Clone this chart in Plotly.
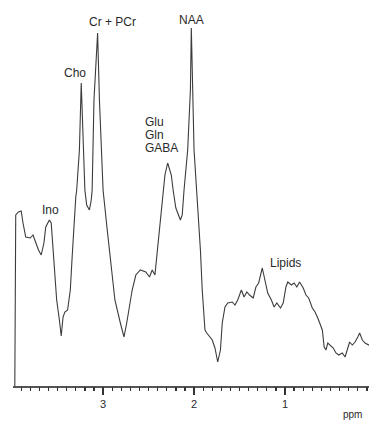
import plotly.graph_objects as go

# Chemical shift (ppm) and signal intensity (arbitrary units)
ppm = [3.97, 3.96, 3.93, 3.90, 3.88, 3.85, 3.80, 3.77, 3.75, 3.71, 3.68, 3.65, 3.63,
       3.59, 3.57, 3.55, 3.53, 3.51, 3.48, 3.46, 3.44, 3.42, 3.39, 3.36, 3.34, 3.32,
       3.30, 3.29, 3.26, 3.24, 3.22, 3.20, 3.18, 3.15, 3.13, 3.12, 3.10, 3.06, 3.04,
       3.00, 2.96, 2.92, 2.87, 2.81, 2.77, 2.74, 2.68, 2.64, 2.59, 2.56, 2.53, 2.49,
       2.46, 2.43, 2.41, 2.37, 2.34, 2.32, 2.29, 2.25, 2.23, 2.20, 2.15, 2.13, 2.11,
       2.07, 2.04, 2.03, 2.00, 1.97, 1.93, 1.91, 1.88, 1.86, 1.80, 1.77, 1.74, 1.71,
       1.69, 1.66, 1.63, 1.58, 1.55, 1.52, 1.48, 1.45, 1.42, 1.39, 1.35, 1.32, 1.29,
       1.25, 1.22, 1.19, 1.15, 1.12, 1.09, 1.05, 1.02, 0.99, 0.97, 0.93, 0.90, 0.87,
       0.84, 0.80, 0.77, 0.74, 0.70, 0.67, 0.64, 0.62, 0.59, 0.57, 0.55, 0.53, 0.51,
       0.47, 0.44, 0.41, 0.37, 0.34, 0.31, 0.29, 0.26, 0.23, 0.20, 0.18, 0.15, 0.12,
       0.08, 0.06]
intensity = [0, 171, 174, 175, 163, 149, 148, 151, 146, 136, 131, 143, 159,
             166, 163, 139, 113, 86, 66, 50, 69, 74, 76, 96, 129, 163,
             189, 196, 236, 303, 236, 196, 181, 176, 186, 196, 286, 353, 286,
             196, 161, 129, 86, 63, 49, 63, 96, 111, 116, 115, 114, 109,
             116, 111, 129, 163, 196, 211, 223, 211, 196, 178, 166, 171, 196,
             236, 296, 358, 236, 196, 136, 96, 56, 53, 46, 38, 24, 36,
             63, 79, 83, 84, 81, 86, 96, 89, 94, 91, 88, 99, 103,
             118, 106, 93, 86, 79, 83, 78, 83, 99, 104, 101, 103, 99,
             104, 98, 91, 88, 78, 74, 68, 63, 56, 39, 36, 43, 41,
             38, 33, 31, 33, 29, 38, 44, 41, 44, 49, 53, 46, 43,
             41, 42]

# Peak labels: text, ppm, intensity, anchor
label_text = ["Ino", "Cho", "Cr + PCr", "Glu", "Gln", "GABA", "NAA", "Lipids"]
label_ppm = [3.58, 3.31, 2.90, 2.56, 2.56, 2.56, 2.03, 0.99]
label_int = [176, 313, 364, 264, 251, 238, 366, 123]
label_anchor = ["center", "center", "center", "left", "left", "left", "center", "center"]

major_step = 1.0   # ppm between labelled ticks (3, 2, 1)
minor_step = 0.1   # ppm between minor ticks
x_range = [3.99, 0.077]

fig = go.Figure()
fig.add_trace(go.Scatter(
    x=ppm, y=intensity, mode="lines",
    line=dict(color="#3c3c3c", width=1.1),
    hoverinfo="skip", showlegend=False,
))
# transparent copy bound to the minor-tick axis so that axis is drawn
fig.add_trace(go.Scatter(
    x=ppm, y=intensity, mode="lines", xaxis="x2",
    line=dict(color="rgba(0,0,0,0)", width=0),
    hoverinfo="skip", showlegend=False,
))

font_family = "Liberation Sans, Arial, sans-serif"
for t, px, iv, anc in zip(label_text, label_ppm, label_int, label_anchor):
    fig.add_annotation(
        x=px, y=iv, xref="x", yref="y", text=t, showarrow=False,
        xanchor=anc, yanchor="middle",
        font=dict(family=font_family, size=12, color="#2a2a2a"),
    )

fig.add_annotation(
    x=0.26, y=-28 / 386, xref="x", yref="paper", text="ppm", showarrow=False,
    xanchor="center", yanchor="middle",
    font=dict(family=font_family, size=10, color="#2a2a2a"),
)

fig.update_layout(
    width=369, height=423,
    margin=dict(l=13, r=0, t=0, b=37, pad=0),
    paper_bgcolor="white", plot_bgcolor="white",
    hovermode=False,
    xaxis=dict(
        range=x_range, showgrid=False, zeroline=False,
        showline=True, linecolor="#555555", linewidth=1.5,
        tickmode="linear", tick0=0, dtick=major_step,
        ticks="outside", ticklen=7, tickwidth=1.4, tickcolor="#333333",
        tickfont=dict(family=font_family, size=11, color="#2a2a2a"),
    ),
    xaxis2=dict(
        range=x_range, overlaying="x", side="bottom", anchor="y",
        showgrid=False, zeroline=False, showline=False,
        tickmode="linear", tick0=0, dtick=minor_step,
        ticks="outside", ticklen=4, tickwidth=1.3, tickcolor="#333333",
        showticklabels=False,
    ),
    yaxis=dict(range=[0, 386], visible=False, showgrid=False, zeroline=False),
)

fig.write_html(
    "out.html",
    config={"displayModeBar": False, "staticPlot": True},
    post_script="document.body.style.margin='0';document.body.style.overflow='hidden';",
)
